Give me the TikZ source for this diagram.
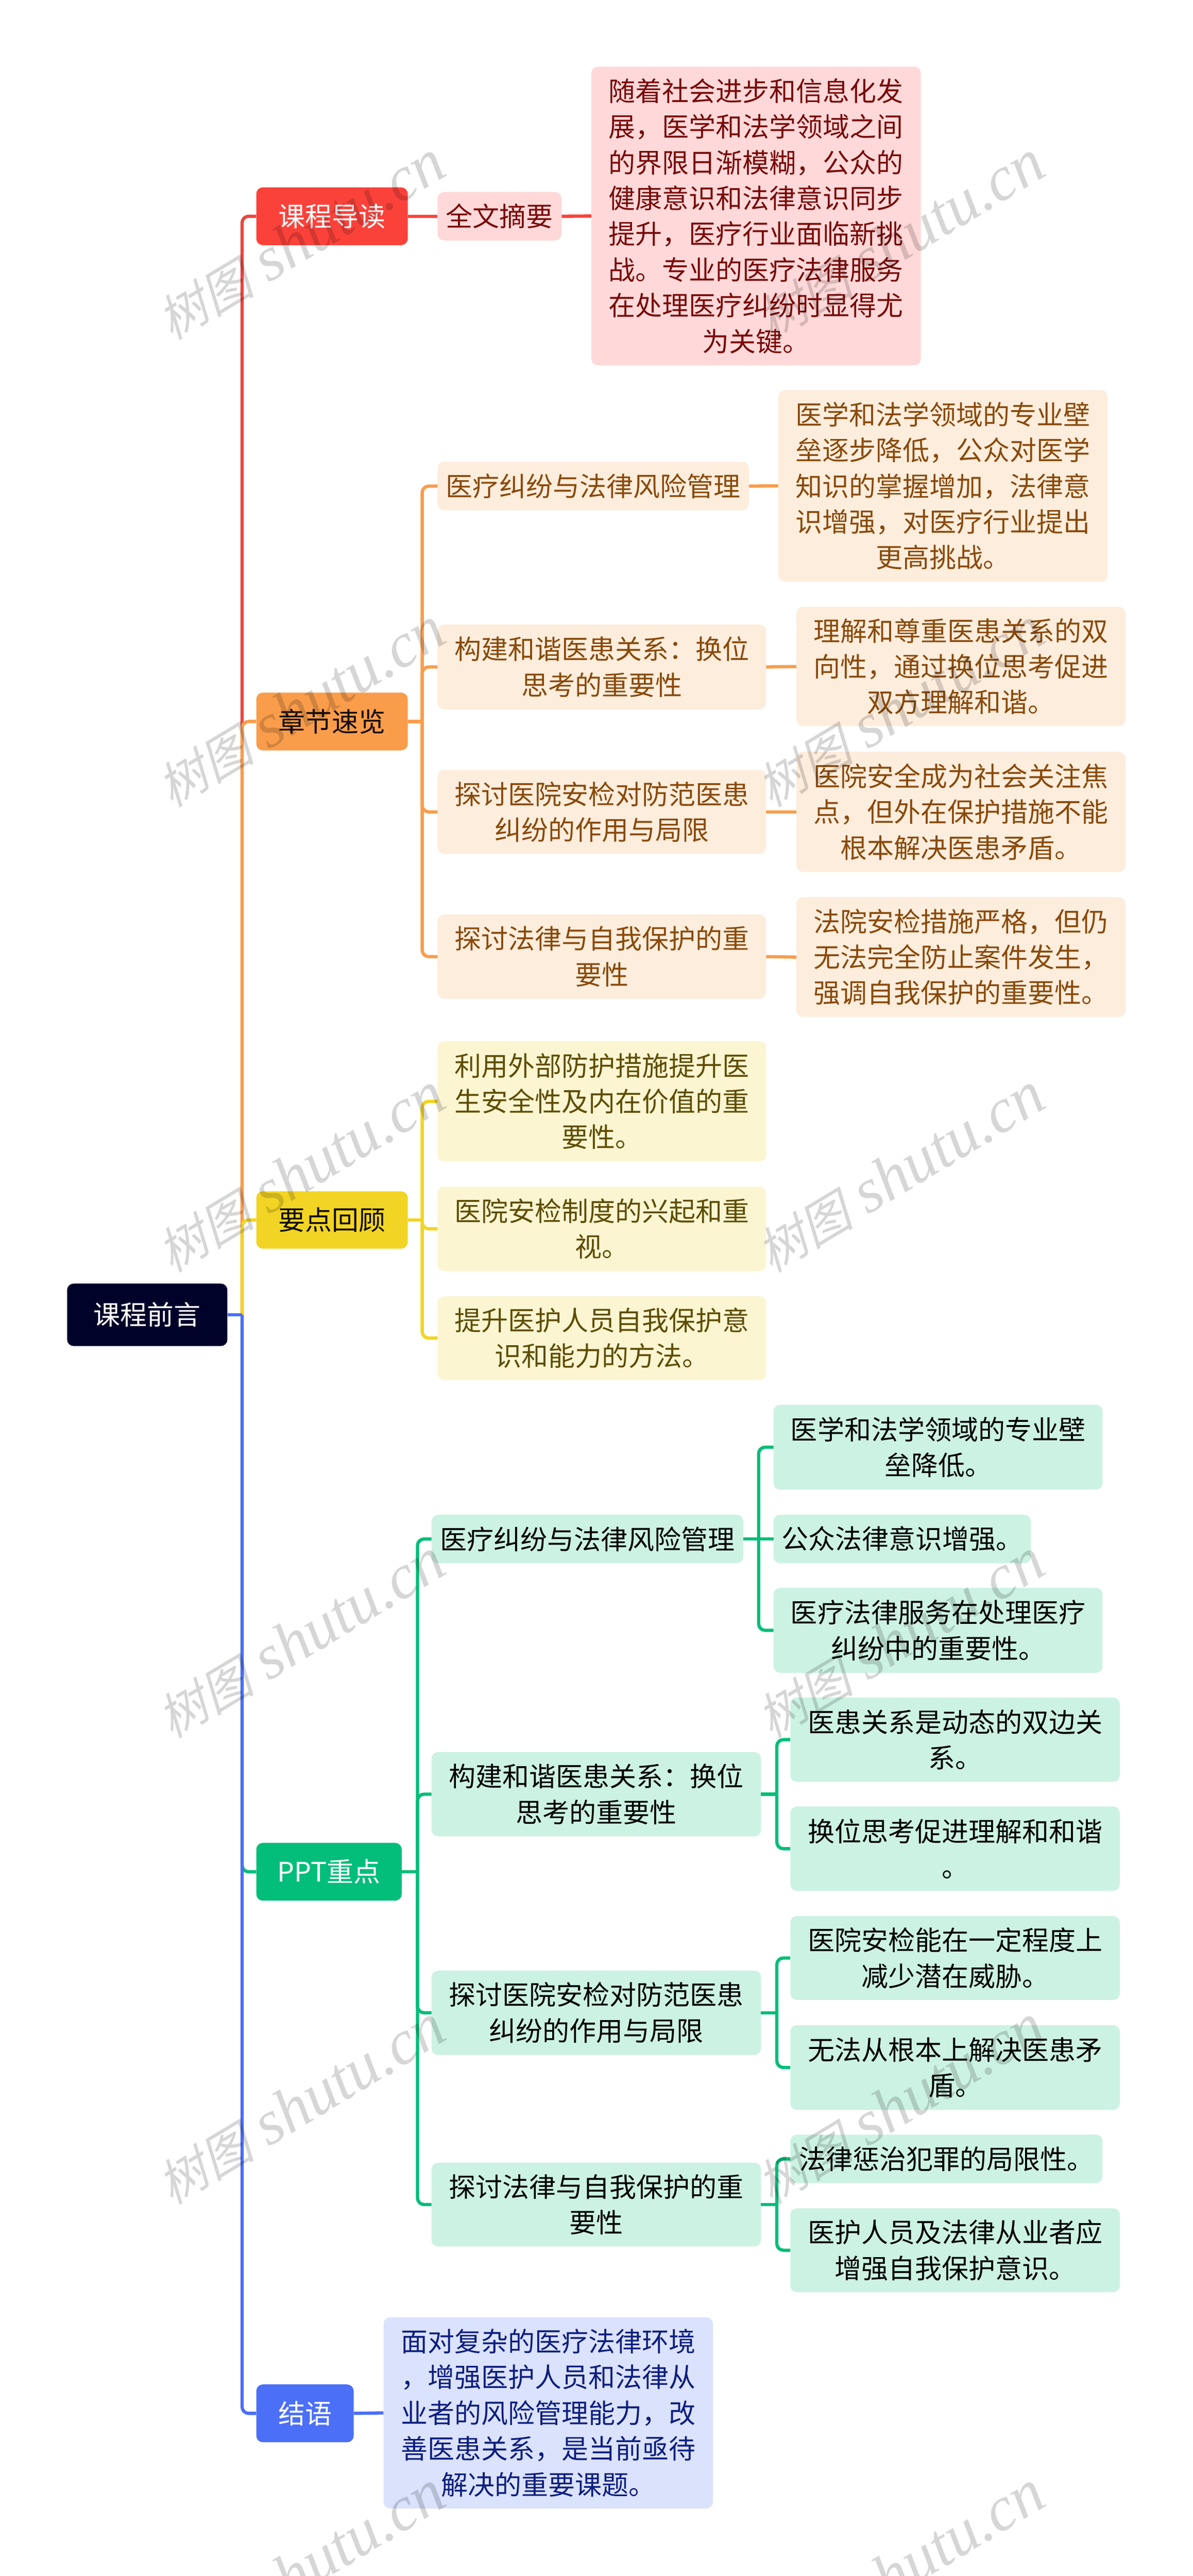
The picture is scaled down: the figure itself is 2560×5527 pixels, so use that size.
\documentclass[tikz,border=0pt]{standalone}
\usepackage{fontspec}
\setmainfont{Noto Sans CJK SC}
\newfontfamily\wmcjk[FakeSlant=0.25]{Noto Sans CJK SC}
\newfontfamily\wmlat{Liberation Serif}
\definecolor{cRoot}{HTML}{000229}
\definecolor{cRed}{HTML}{FB423A}
\definecolor{cRedL}{HTML}{FFD9D9}
\definecolor{cRedT}{HTML}{7A0A0A}
\definecolor{cRedB}{HTML}{E8473F}
\definecolor{cOra}{HTML}{F99D4B}
\definecolor{cOraL}{HTML}{FDEDDD}
\definecolor{cOraT}{HTML}{8A4A0A}
\definecolor{cYel}{HTML}{F2D424}
\definecolor{cYelL}{HTML}{FBF5D2}
\definecolor{cYelT}{HTML}{5E4D00}
\definecolor{cGre}{HTML}{02BE7A}
\definecolor{cGreL}{HTML}{CCF2E3}
\definecolor{cBlu}{HTML}{4B6FF7}
\definecolor{cBluL}{HTML}{DBE2FC}
\definecolor{cBluT}{HTML}{0E1F7F}
\tikzset{
  x=1pt,y=-1pt,
  bx/.style={rounded corners=14pt,inner sep=0pt,align=center,font=\fontsize{57.5}{76.7}\selectfont},
  rootbox/.style={bx,fill=cRoot,text=white},
  redtop/.style={bx,fill=cRed,text=white},
  oratop/.style={bx,fill=cOra,text=black!85!cOraT},
  yeltop/.style={bx,fill=cYel,text=black!85!cYelT},
  gretop/.style={bx,fill=cGre,text=white},
  blutop/.style={bx,fill=cBlu,text=white},
  redsub/.style={bx,fill=cRedL,text=cRedT},
  orasub/.style={bx,fill=cOraL,text=cOraT},
  yelsub/.style={bx,fill=cYelL,text=cYelT},
  gresub/.style={bx,fill=cGreL,text=black},
  blusub/.style={bx,fill=cBluL,text=cBluT},
  wire/.style={line width=7pt,line cap=butt},
  busline/.style={wire,rounded corners=14pt},
  watermark/.style={rotate=31,text=black,text opacity=0.16,inner sep=0pt},
}
% name, style, left, top, right, bottom, text
\newcommand{\bxnode}[7]{\node[#2,minimum width=#5pt-#3pt,minimum height=#6pt-#4pt] (#1) at ({(#3+#5)/2},{(#4+#6)/2}) {#7};}
% straight link
\newcommand{\straight}[3]{\draw[wire,#1] (#2.east) -- (#3.west);}
% bus link: colour, bus coordinate, parent-side anchor, child
\newcommand{\buslink}[4]{\draw[busline,#1] (#2 |- #3.east) -- (#2 |- #4.west) -- (#4.west);}
\newcommand{\stub}[3]{\draw[wire,#1] (#3.east) -- (#2 |- #3.east);}
\newcommand{\wm}[3]{\node[watermark] (#1) at (#2,#3) {{\fontsize{105}{125}\selectfont\wmcjk 树图}\hspace{32pt}{\fontsize{135}{125}\selectfont\wmlat\itshape shutu.cn}};}
\begin{document}
\begin{tikzpicture}
\useasboundingbox[fill=white] (0,0) rectangle (2560,5527);
\coordinate (busA) at (519.5,0);
\coordinate (busB) at (906,0);
\coordinate (busC) at (896,0);
\coordinate (busD) at (1628,0);
\coordinate (busE) at (1667,0);
% nodes
\bxnode{root}{rootbox}{144}{2754}{488}{2888}{课程前言}
\bxnode{t1}{redtop}{550}{402}{875}{526}{课程导读}
\bxnode{t2}{oratop}{550}{1486}{875}{1610}{章节速览}
\bxnode{t3}{yeltop}{550}{2556}{875}{2679}{要点回顾}
\bxnode{t4}{gretop}{550}{3954}{862}{4078}{PPT重点}
\bxnode{t5}{blutop}{550}{5116}{759}{5240}{结语}
\bxnode{a1}{redsub}{939}{412}{1205}{516}{全文摘要}
\bxnode{a2}{redsub}{1269}{143}{1976}{784}{随着社会进步和信息化发\\展，医学和法学领域之间\\的界限日渐模糊，公众的\\健康意识和法律意识同步\\提升，医疗行业面临新挑\\战。专业的医疗法律服务\\在处理医疗纠纷时显得尤\\为关键。}
\bxnode{b1}{orasub}{939}{991}{1607}{1095}{医疗纠纷与法律风险管理}
\bxnode{b1x}{orasub}{1670}{837}{2377}{1248}{医学和法学领域的专业壁\\垒逐步降低，公众对医学\\知识的掌握增加，法律意\\识增强，对医疗行业提出\\更高挑战。}
\bxnode{b2}{orasub}{939}{1340}{1644}{1522}{构建和谐医患关系：换位\\思考的重要性}
\bxnode{b2x}{orasub}{1709}{1302}{2415}{1558}{理解和尊重医患关系的双\\向性，通过换位思考促进\\双方理解和谐。}
\bxnode{b3}{orasub}{939}{1652}{1644}{1832}{探讨医院安检对防范医患\\纠纷的作用与局限}
\bxnode{b3x}{orasub}{1709}{1613}{2415}{1871}{医院安全成为社会关注焦\\点，但外在保护措施不能\\根本解决医患矛盾。}
\bxnode{b4}{orasub}{939}{1962}{1644}{2143}{探讨法律与自我保护的重\\要性}
\bxnode{b4x}{orasub}{1709}{1925}{2415}{2182}{法院安检措施严格，但仍\\无法完全防止案件发生，\\强调自我保护的重要性。}
\bxnode{c1}{yelsub}{939}{2234}{1644}{2492}{利用外部防护措施提升医\\生安全性及内在价值的重\\要性。}
\bxnode{c2}{yelsub}{939}{2546}{1644}{2727}{医院安检制度的兴起和重\\视。}
\bxnode{c3}{yelsub}{939}{2781}{1644}{2961}{提升医护人员自我保护意\\识和能力的方法。}
\bxnode{d1}{gresub}{926}{3250}{1595}{3354}{医疗纠纷与法律风险管理}
\bxnode{d1a}{gresub}{1660}{3014}{2366}{3196}{医学和法学领域的专业壁\\垒降低。}
\bxnode{d1b}{gresub}{1660}{3250}{2212}{3354}{公众法律意识增强。}
\bxnode{d1c}{gresub}{1660}{3407}{2366}{3589}{医疗法律服务在处理医疗\\纠纷中的重要性。}
\bxnode{d2}{gresub}{926}{3759}{1633}{3940}{构建和谐医患关系：换位\\思考的重要性}
\bxnode{d2a}{gresub}{1696}{3642}{2403}{3823}{医患关系是动态的双边关\\系。}
\bxnode{d2b}{gresub}{1696}{3876}{2403}{4057}{换位思考促进理解和和谐\\。}
\bxnode{d3}{gresub}{926}{4228}{1633}{4409}{探讨医院安检对防范医患\\纠纷的作用与局限}
\bxnode{d3a}{gresub}{1696}{4111}{2403}{4291}{医院安检能在一定程度上\\减少潜在威胁。}
\bxnode{d3b}{gresub}{1696}{4345}{2403}{4527}{无法从根本上解决医患矛\\盾。}
\bxnode{d4}{gresub}{926}{4640}{1633}{4820}{探讨法律与自我保护的重\\要性}
\bxnode{d4a}{gresub}{1696}{4580}{2366}{4684}{法律惩治犯罪的局限性。}
\bxnode{d4b}{gresub}{1696}{4738}{2403}{4918}{医护人员及法律从业者应\\增强自我保护意识。}
\bxnode{e1}{blusub}{823}{4972}{1530}{5382}{面对复杂的医疗法律环境\\，增强医护人员和法律从\\业者的风险管理能力，改\\善医患关系，是当前亟待\\解决的重要课题。}
% trunk
\buslink{cRedB}{busA}{root}{t1}
\buslink{cOra}{busA}{root}{t2}
\buslink{cYel}{busA}{root}{t3}
\buslink{cGre}{busA}{root}{t4}
\buslink{cBlu}{busA}{root}{t5}
\stub{cBlu}{busA}{root}
% red
\straight{cRed}{t1}{a1}
\straight{cRed}{a1}{a2}
% orange
\stub{cOra}{busB}{t2}
\buslink{cOra}{busB}{t2}{b1}
\buslink{cOra}{busB}{t2}{b2}
\buslink{cOra}{busB}{t2}{b3}
\buslink{cOra}{busB}{t2}{b4}
\straight{cOra}{b1}{b1x}
\straight{cOra}{b2}{b2x}
\straight{cOra}{b3}{b3x}
\straight{cOra}{b4}{b4x}
% yellow
\stub{cYel}{busB}{t3}
\buslink{cYel}{busB}{t3}{c1}
\buslink{cYel}{busB}{t3}{c2}
\buslink{cYel}{busB}{t3}{c3}
% green
\stub{cGre}{busC}{t4}
\buslink{cGre}{busC}{t4}{d1}
\buslink{cGre}{busC}{t4}{d2}
\buslink{cGre}{busC}{t4}{d3}
\buslink{cGre}{busC}{t4}{d4}
\straight{cGre}{d1}{d1b}
\buslink{cGre}{busD}{d1}{d1a}
\buslink{cGre}{busD}{d1}{d1c}
\stub{cGre}{busE}{d2}
\buslink{cGre}{busE}{d2}{d2a}
\buslink{cGre}{busE}{d2}{d2b}
\stub{cGre}{busE}{d3}
\buslink{cGre}{busE}{d3}{d3a}
\buslink{cGre}{busE}{d3}{d3b}
\stub{cGre}{busE}{d4}
\buslink{cGre}{busE}{d4}{d4a}
\buslink{cGre}{busE}{d4}{d4b}
% blue
\straight{cBlu}{t5}{e1}
% watermarks
\wm{w1}{645}{516}
\wm{w2}{1931}{516}
\wm{w3}{645}{1518}
\wm{w4}{1931}{1518}
\wm{w5}{645}{2516}
\wm{w6}{1931}{2516}
\wm{w7}{645}{3516}
\wm{w8}{1931}{3516}
\wm{w9}{645}{4516}
\wm{w10}{1931}{4516}
\wm{w11}{645}{5516}
\wm{w12}{1931}{5516}
\end{tikzpicture}
\end{document}
